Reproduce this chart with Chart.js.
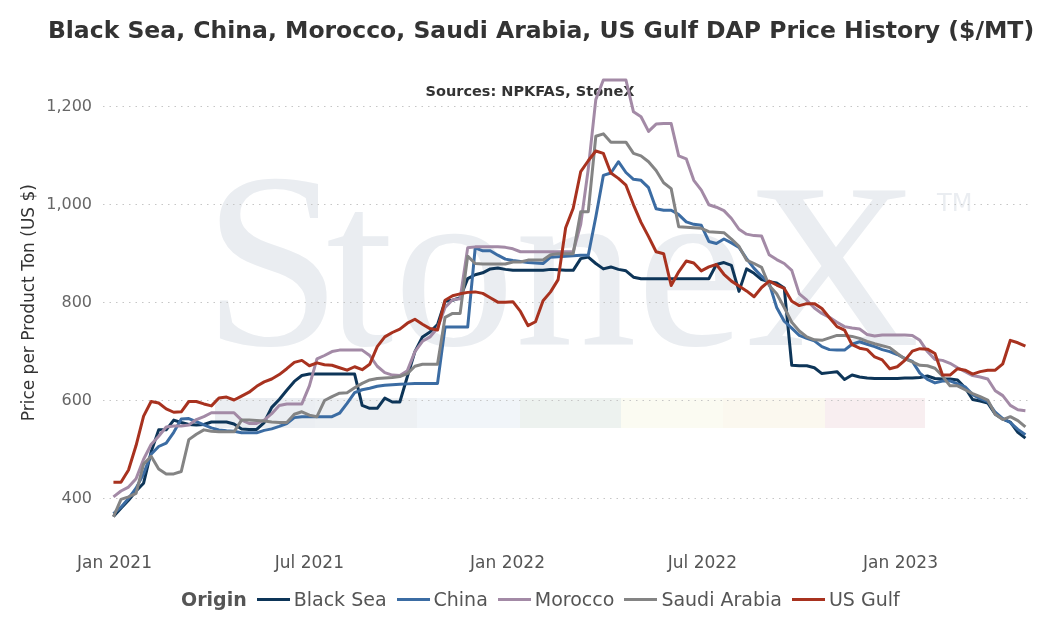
<!DOCTYPE html>
<html><head><meta charset="utf-8">
<script src="https://cdn.jsdelivr.net/npm/chart.js@4.4.0/dist/chart.umd.min.js"></script>
<style>
html,body{margin:0;padding:0;background:#fff;}
#wrap{position:relative;width:1056px;height:636px;overflow:hidden;}
canvas{position:absolute;left:0;top:0;}
#title{position:absolute;left:0;top:16px;width:1082px;height:28px;line-height:28px;text-align:center;font-family:'DejaVu Sans';font-weight:bold;font-size:23.5px;color:#333;white-space:nowrap;}
#legend{position:absolute;left:181px;top:586px;height:26px;display:flex;align-items:center;font-family:'DejaVu Sans';font-size:19px;color:#555;white-space:nowrap;}
#legend .ttl{font-weight:bold;margin-right:10px;}
#legend .it{display:flex;align-items:center;margin-right:10px;}
#legend .sw{display:inline-block;width:33px;height:0;border-top:3px solid;margin-right:4px;}
</style></head>
<body><div id="wrap"><canvas id="c" width="1056" height="636"></canvas><div id="title"></div><div id="legend"></div></div>
<script>
const chartTitle = 'Black Sea, China, Morocco, Saudi Arabia, US Gulf DAP Price History ($/MT)';
const sourceNote = 'Sources: NPKFAS, StoneX';
const yAxisTitle = 'Price per Product Ton (US $)';
const legendTitle = 'Origin';
const seriesNames = ['Black Sea', 'China', 'Morocco', 'Saudi Arabia', 'US Gulf'];
const seriesColors = ['#0d3558', '#3b6ca3', '#a38aa6', '#848484', '#a8321f'];
const tickDates = ['2021-01-01', '2021-07-01', '2022-01-01', '2022-07-01', '2023-01-01'];
const tickLabels = ['Jan 2021', 'Jul 2021', 'Jan 2022', 'Jul 2022', 'Jan 2023'];
const yTicks = [400, 600, 800, 1000, 1200];

const dates = [
'2020-12-31',
'2021-01-07','2021-01-14','2021-01-21','2021-01-28','2021-02-04','2021-02-11','2021-02-18','2021-02-25',
'2021-03-04','2021-03-11','2021-03-18','2021-03-25','2021-04-01','2021-04-08','2021-04-15','2021-04-22','2021-04-29',
'2021-05-06','2021-05-13','2021-05-20','2021-05-27','2021-06-03','2021-06-10','2021-06-17','2021-06-24',
'2021-07-01','2021-07-08','2021-07-15','2021-07-22','2021-07-29','2021-08-05','2021-08-12','2021-08-19','2021-08-26',
'2021-09-02','2021-09-09','2021-09-16','2021-09-23','2021-09-30','2021-10-07','2021-10-14','2021-10-21','2021-10-28',
'2021-11-04','2021-11-11','2021-11-18','2021-11-25','2021-12-02','2021-12-09','2021-12-16','2021-12-23','2021-12-30',
'2022-01-06','2022-01-13','2022-01-20','2022-01-27','2022-02-03','2022-02-10','2022-02-17','2022-02-24',
'2022-03-03','2022-03-10','2022-03-17','2022-03-24','2022-03-31','2022-04-07','2022-04-14','2022-04-21','2022-04-28',
'2022-05-05','2022-05-12','2022-05-19','2022-05-26','2022-06-02','2022-06-09','2022-06-16','2022-06-23','2022-06-30',
'2022-07-07','2022-07-14','2022-07-21','2022-07-28','2022-08-04','2022-08-11','2022-08-18','2022-08-25',
'2022-09-01','2022-09-08','2022-09-15','2022-09-22','2022-09-29','2022-10-06','2022-10-13','2022-10-20','2022-10-27',
'2022-11-03','2022-11-10','2022-11-17','2022-11-24','2022-12-01','2022-12-08','2022-12-15','2022-12-22','2022-12-29',
'2023-01-05','2023-01-12','2023-01-19','2023-01-26','2023-02-02','2023-02-09','2023-02-16','2023-02-23',
'2023-03-02','2023-03-09','2023-03-16','2023-03-23','2023-03-30','2023-04-06','2023-04-13','2023-04-20','2023-04-27'
];

const blackSea = [
363,380,396,415,431,495,540,540,560,555,
551,550,551,556,556,556,552,542,541,541,
555,586,602,621,639,651,654,654,654,654,
654,654,654,590,584,584,605,597,597,649,
700,730,740,755,803,805,810,849,857,861,
869,871,868,866,866,866,866,866,868,867,
866,866,890,893,880,869,873,868,865,852,
849,849,849,849,849,849,849,849,849,849,
878,882,876,823,869,860,847,843,840,830,
672,671,671,667,655,657,659,643,652,648,
646,645,645,645,645,646,646,647,650,645,
644,644,642,626,602,599,595,572,562,556,
535,523];

const china = [
369,382,400,421,450,490,506,513,535,562,
563,557,550,544,540,538,537,534,534,534,
539,542,547,553,565,567,567,567,567,567,
574,594,616,622,625,629,631,632,633,634,
635,635,635,635,750,750,750,750,912,906,
906,897,889,886,884,882,881,880,893,894,
895,896,897,897,975,1060,1065,1088,1066,1052,
1050,1035,992,989,989,980,965,960,958,925,
921,930,922,913,890,870,854,840,790,762,
748,733,727,722,710,704,703,703,715,720,
715,710,704,700,694,686,680,656,643,636,
640,640,634,628,612,604,598,576,563,555,
541,530];

const morocco = [
403,415,423,440,480,510,527,546,548,548,
550,561,567,575,575,575,575,560,553,553,
560,573,590,593,593,593,630,685,692,700,
703,703,703,703,692,670,657,652,651,661,
700,721,730,748,790,806,808,912,914,914,
914,914,913,910,904,904,904,904,904,904,
904,904,960,1073,1215,1255,1255,1255,1255,1190,
1180,1150,1165,1166,1166,1100,1094,1050,1030,1000,
995,988,972,950,940,937,936,898,888,880,
866,818,805,789,778,770,760,751,748,746,
735,732,734,734,734,734,733,723,700,684,
682,676,667,659,651,648,644,620,610,590,
581,579];

const saudiArabia = [
362,398,403,410,470,486,460,450,450,455,
520,531,540,537,536,536,536,560,560,559,
558,556,555,555,572,577,570,567,600,608,
615,616,626,635,642,645,646,647,649,655,
670,674,674,674,770,778,778,895,880,879,
879,879,879,883,883,887,887,887,898,900,
900,900,986,986,1140,1145,1128,1128,1128,1105,
1100,1088,1070,1045,1033,955,954,953,952,945,
944,943,930,915,887,880,872,835,818,790,
760,742,730,724,723,728,733,733,731,727,
721,716,712,708,696,685,679,672,671,666,
650,630,630,622,614,608,601,572,561,567,
559,546];

const usGulf = [
433,433,458,508,568,598,595,583,576,577,
598,598,593,589,605,607,601,609,617,629,
638,644,653,665,678,682,671,677,673,672,
667,662,669,663,674,710,730,739,746,758,
766,756,747,744,805,814,818,821,822,819,
810,801,801,802,782,753,761,804,822,847,
953,993,1068,1090,1110,1105,1065,1054,1040,1000,
964,935,904,900,835,863,885,881,865,873,
878,858,844,834,824,812,831,844,836,829,
803,794,798,798,788,769,751,744,714,707,
704,689,683,665,669,682,701,706,705,696,
652,652,665,662,654,659,662,662,675,723,
718,711];

const seriesValues = [blackSea, china, morocco, saudiArabia, usGulf];

const DAY = 86400000;
const epoch = Date.UTC(2021, 0, 1);
function dayOf(s) { const p = s.split('-').map(Number); return (Date.UTC(p[0], p[1] - 1, p[2]) - epoch) / DAY; }
const dayNums = dates.map(dayOf);
const tickDays = tickDates.map(dayOf);

const datasets = seriesNames.map((name, i) => ({
  label: name,
  data: seriesValues[i].map((v, k) => ({ x: dayNums[k], y: v })),
  borderColor: seriesColors[i],
  backgroundColor: seriesColors[i],
  borderWidth: 3,
  pointRadius: 0,
  tension: 0,
  fill: false,
  order: seriesNames.length - 1 - i,
  borderJoinStyle: 'round'
}));

const deco = {
  id: 'deco',
  beforeDraw(chart) {
    const ctx = chart.ctx;
    ctx.save();
    const bands = [[215, 315, '#ebeef2'], [315, 417, '#edf0f3'], [417, 520, '#f1f5f9'], [520, 621, '#edf2ef'], [621, 723, '#fbfbf2'], [723, 825, '#fbf8ef'], [825, 925, '#f8eef0']];
    bands.forEach(b => { ctx.fillStyle = b[2]; ctx.fillRect(b[0], 398, b[1] - b[0], 30); });
    ctx.fillStyle = '#eaedf1';
    ctx.textBaseline = 'alphabetic';
    ctx.font = '250px "Liberation Serif"';
    ctx.fillText('S', 203, 345);
    ctx.translate(326, 345);
    ctx.scale(1.03, 1);
    ctx.font = '236px "Liberation Serif"';
    ctx.fillText('toneX', 0, 0);
    ctx.restore();
    ctx.save();
    ctx.fillStyle = '#eaedf1';
    ctx.font = '24px "DejaVu Sans"';
    ctx.textBaseline = 'alphabetic';
    ctx.fillText('TM', 937, 211);
    ctx.restore();
  },
  beforeDatasetsDraw(chart) {
    const ctx = chart.ctx;
    ctx.save();
    ctx.fillStyle = '#333';
    ctx.font = 'bold 14.5px "DejaVu Sans"';
    ctx.textAlign = 'center';
    ctx.textBaseline = 'middle';
    ctx.fillText(sourceNote, 530, 92);
    ctx.restore();
  }
};

document.getElementById('title').textContent = chartTitle;

new Chart(document.getElementById('c'), {
  type: 'line',
  data: { datasets },
  plugins: [deco],
  options: {
    responsive: false,
    animation: false,
    devicePixelRatio: 1,
    layout: { padding: { left: 0, right: 25, top: 58, bottom: 0 } },
    plugins: {
      legend: { display: false },
      tooltip: { enabled: false },
      title: { display: false }
    },
    scales: {
      x: {
        type: 'linear', min: -10.7, max: 851.2,
        grid: { display: false, drawTicks: false },
        border: { display: false },
        afterBuildTicks: s => { s.ticks = tickDays.map(v => ({ value: v })); },
        afterFit: s => { s.height = 88.7; },
        ticks: {
          autoSkip: false, maxRotation: 0, padding: 6, color: '#555',
          font: { family: 'DejaVu Sans', size: 17 },
          callback: v => { const i = tickDays.indexOf(v); return i >= 0 ? tickLabels[i] : ''; }
        }
      },
      y: {
        min: 300, max: 1300,
        grid: { color: '#c6c6c6', lineWidth: 1, drawTicks: false },
        border: { display: false, dash: [1.5, 5] },
        afterBuildTicks: s => { s.ticks = yTicks.map(v => ({ value: v })); },
        afterFit: s => { s.width = 103; },
        ticks: {
          padding: 11, color: '#666',
          font: { family: 'DejaVu Sans', size: 16 },
          callback: v => Number(v).toLocaleString('en-US')
        },
        title: {
          display: true, text: yAxisTitle, color: '#333',
          font: { family: 'DejaVu Sans', size: 17 },
          padding: { top: 19, bottom: 0 }
        }
      }
    }
  }
});

const lg = document.getElementById('legend');
const t = document.createElement('span'); t.className = 'ttl'; t.textContent = legendTitle; lg.appendChild(t);
seriesNames.forEach((n, i) => {
  const it = document.createElement('span'); it.className = 'it';
  const sw = document.createElement('span'); sw.className = 'sw'; sw.style.borderTopColor = seriesColors[i];
  const tx = document.createElement('span'); tx.textContent = n;
  it.appendChild(sw); it.appendChild(tx); lg.appendChild(it);
});
</script>
</body></html>
